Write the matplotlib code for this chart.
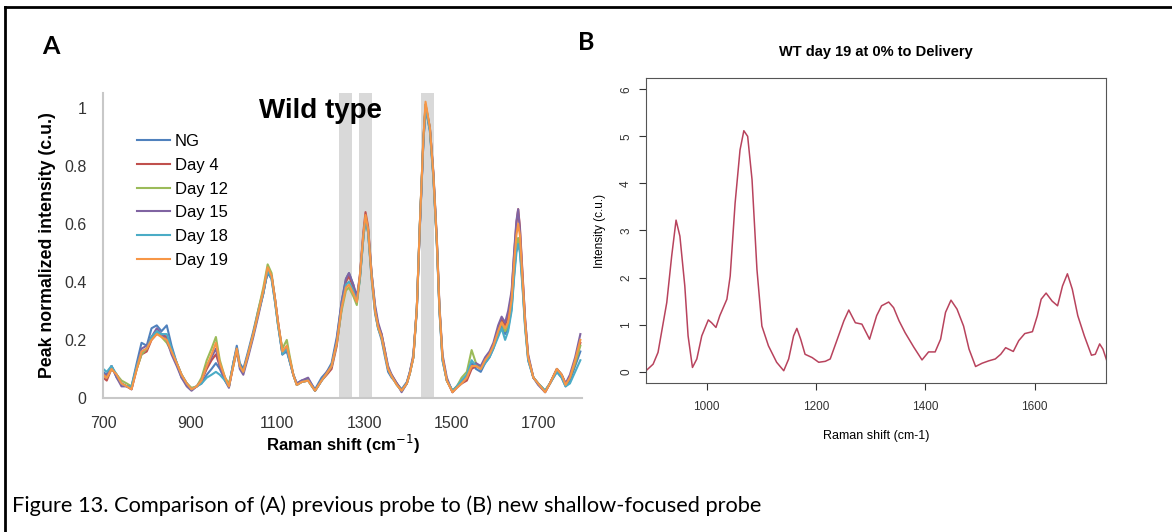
import numpy as np
import matplotlib.pyplot as plt
from matplotlib.lines import Line2D

plt.rcParams['font.family'] = ['Liberation Sans', 'DejaVu Sans']

# ---- panel A: wild type spectra (peak normalized) ----
shift_a = [700, 708, 719, 731, 742, 754, 765, 777, 788, 800,
           811, 823, 834, 846, 857, 869, 880, 892, 903, 915,
           926, 938, 949, 959, 968, 980, 989, 999, 1007, 1014,
           1022, 1033, 1045, 1056, 1068, 1078, 1087, 1095, 1102, 1112,
           1122, 1128, 1137, 1145, 1156, 1171, 1187, 1202, 1214, 1225,
           1237, 1248, 1258, 1265, 1275, 1283, 1290, 1298, 1303, 1309,
           1317, 1325, 1332, 1340, 1348, 1355, 1363, 1375, 1386, 1398,
           1405, 1413, 1421, 1428, 1436, 1441, 1451, 1459, 1467, 1473,
           1480, 1490, 1503, 1513, 1524, 1536, 1547, 1557, 1568, 1578,
           1588, 1597, 1608, 1616, 1624, 1631, 1639, 1645, 1650, 1654,
           1658, 1664, 1670, 1677, 1689, 1700, 1716, 1727, 1743, 1754,
           1763, 1773, 1785, 1797]

ng = [0.09, 0.08, 0.11, 0.07, 0.05, 0.04, 0.04, 0.12, 0.19, 0.18,
      0.24, 0.25, 0.23, 0.25, 0.18, 0.12, 0.07, 0.05, 0.03, 0.04,
      0.05, 0.08, 0.10, 0.12, 0.10, 0.06, 0.04, 0.12, 0.18, 0.12,
      0.10, 0.16, 0.23, 0.30, 0.37, 0.43, 0.41, 0.33, 0.25, 0.15,
      0.16, 0.13, 0.08, 0.05, 0.06, 0.065, 0.03, 0.07, 0.09, 0.12,
      0.21, 0.33, 0.41, 0.43, 0.39, 0.34, 0.41, 0.55, 0.62, 0.57,
      0.41, 0.29, 0.24, 0.20, 0.14, 0.09, 0.07, 0.05, 0.03, 0.055,
      0.09, 0.14, 0.30, 0.59, 0.88, 1.00, 0.92, 0.76, 0.53, 0.30,
      0.13, 0.06, 0.025, 0.04, 0.06, 0.07, 0.12, 0.10, 0.09, 0.12,
      0.14, 0.17, 0.22, 0.25, 0.22, 0.24, 0.31, 0.43, 0.52, 0.55,
      0.52, 0.39, 0.25, 0.13, 0.07, 0.05, 0.025, 0.05, 0.09, 0.07,
      0.04, 0.06, 0.11, 0.16]

day4 = [0.07, 0.06, 0.10, 0.08, 0.05, 0.04, 0.03, 0.10, 0.15, 0.16,
        0.20, 0.22, 0.22, 0.21, 0.16, 0.12, 0.08, 0.05, 0.03, 0.04,
        0.06, 0.10, 0.13, 0.15, 0.11, 0.07, 0.04, 0.11, 0.16, 0.11,
        0.09, 0.15, 0.22, 0.29, 0.36, 0.44, 0.42, 0.34, 0.26, 0.16,
        0.17, 0.14, 0.08, 0.045, 0.055, 0.06, 0.025, 0.06, 0.08, 0.10,
        0.18, 0.31, 0.40, 0.42, 0.38, 0.33, 0.42, 0.57, 0.64, 0.59,
        0.43, 0.31, 0.25, 0.22, 0.16, 0.10, 0.08, 0.05, 0.025, 0.05,
        0.085, 0.14, 0.31, 0.60, 0.89, 1.01, 0.93, 0.77, 0.54, 0.31,
        0.14, 0.06, 0.02, 0.04, 0.05, 0.06, 0.10, 0.11, 0.10, 0.13,
        0.15, 0.18, 0.24, 0.27, 0.25, 0.28, 0.36, 0.50, 0.60, 0.65,
        0.59, 0.43, 0.27, 0.14, 0.07, 0.05, 0.02, 0.05, 0.10, 0.08,
        0.05, 0.07, 0.12, 0.19]

day12 = [0.08, 0.07, 0.10, 0.08, 0.06, 0.05, 0.04, 0.10, 0.15, 0.17,
         0.21, 0.23, 0.21, 0.19, 0.16, 0.12, 0.08, 0.05, 0.035, 0.04,
         0.07, 0.13, 0.17, 0.21, 0.13, 0.07, 0.05, 0.11, 0.17, 0.11,
         0.09, 0.15, 0.22, 0.30, 0.38, 0.46, 0.43, 0.34, 0.25, 0.17,
         0.20, 0.15, 0.08, 0.045, 0.055, 0.06, 0.025, 0.06, 0.085, 0.11,
         0.19, 0.30, 0.37, 0.38, 0.35, 0.32, 0.41, 0.55, 0.62, 0.57,
         0.42, 0.30, 0.24, 0.21, 0.15, 0.10, 0.075, 0.045, 0.025, 0.05,
         0.085, 0.14, 0.31, 0.60, 0.89, 1.01, 0.93, 0.77, 0.54, 0.31,
         0.14, 0.06, 0.025, 0.04, 0.07, 0.09, 0.165, 0.12, 0.10, 0.13,
         0.15, 0.18, 0.23, 0.26, 0.23, 0.25, 0.32, 0.44, 0.52, 0.55,
         0.52, 0.40, 0.25, 0.14, 0.07, 0.05, 0.025, 0.05, 0.10, 0.08,
         0.045, 0.07, 0.12, 0.18]

day15 = [0.08, 0.08, 0.11, 0.07, 0.04, 0.04, 0.03, 0.11, 0.17, 0.18,
         0.21, 0.24, 0.22, 0.20, 0.15, 0.11, 0.07, 0.04, 0.025, 0.04,
         0.06, 0.11, 0.14, 0.17, 0.11, 0.06, 0.035, 0.12, 0.17, 0.10,
         0.08, 0.14, 0.21, 0.28, 0.36, 0.44, 0.42, 0.34, 0.26, 0.15,
         0.17, 0.13, 0.08, 0.05, 0.06, 0.07, 0.025, 0.06, 0.09, 0.11,
         0.20, 0.33, 0.41, 0.43, 0.39, 0.35, 0.42, 0.56, 0.62, 0.58,
         0.43, 0.32, 0.26, 0.22, 0.16, 0.11, 0.08, 0.05, 0.02, 0.05,
         0.09, 0.15, 0.31, 0.59, 0.88, 1.00, 0.93, 0.78, 0.55, 0.32,
         0.15, 0.07, 0.02, 0.035, 0.05, 0.07, 0.11, 0.12, 0.11, 0.14,
         0.16, 0.19, 0.25, 0.28, 0.26, 0.30, 0.37, 0.51, 0.61, 0.65,
         0.58, 0.42, 0.27, 0.15, 0.07, 0.045, 0.02, 0.05, 0.10, 0.08,
         0.05, 0.08, 0.14, 0.22]

day18 = [0.10, 0.09, 0.11, 0.08, 0.05, 0.04, 0.04, 0.11, 0.16, 0.17,
         0.21, 0.23, 0.22, 0.22, 0.17, 0.12, 0.08, 0.05, 0.03, 0.04,
         0.05, 0.07, 0.08, 0.09, 0.08, 0.06, 0.04, 0.12, 0.17, 0.11,
         0.09, 0.15, 0.22, 0.29, 0.36, 0.44, 0.41, 0.33, 0.25, 0.15,
         0.17, 0.13, 0.08, 0.045, 0.055, 0.06, 0.025, 0.06, 0.085, 0.11,
         0.19, 0.31, 0.39, 0.40, 0.37, 0.33, 0.41, 0.55, 0.62, 0.57,
         0.42, 0.30, 0.24, 0.21, 0.15, 0.10, 0.075, 0.045, 0.025, 0.05,
         0.085, 0.14, 0.31, 0.60, 0.88, 1.00, 0.92, 0.76, 0.53, 0.30,
         0.13, 0.06, 0.025, 0.04, 0.06, 0.08, 0.13, 0.11, 0.10, 0.12,
         0.14, 0.17, 0.21, 0.24, 0.20, 0.23, 0.30, 0.42, 0.50, 0.53,
         0.50, 0.38, 0.24, 0.13, 0.07, 0.05, 0.025, 0.05, 0.09, 0.07,
         0.04, 0.05, 0.09, 0.13]

day19 = [0.08, 0.07, 0.10, 0.08, 0.05, 0.04, 0.03, 0.10, 0.16, 0.17,
         0.20, 0.22, 0.21, 0.20, 0.16, 0.12, 0.08, 0.05, 0.03, 0.04,
         0.06, 0.11, 0.15, 0.19, 0.12, 0.07, 0.04, 0.11, 0.17, 0.11,
         0.09, 0.15, 0.22, 0.29, 0.37, 0.45, 0.42, 0.34, 0.26, 0.16,
         0.18, 0.14, 0.08, 0.045, 0.055, 0.06, 0.025, 0.06, 0.085, 0.11,
         0.19, 0.31, 0.38, 0.39, 0.36, 0.33, 0.42, 0.56, 0.63, 0.58,
         0.42, 0.30, 0.245, 0.21, 0.15, 0.10, 0.075, 0.045, 0.025, 0.05,
         0.085, 0.14, 0.31, 0.60, 0.89, 1.02, 0.93, 0.77, 0.54, 0.31,
         0.14, 0.06, 0.02, 0.035, 0.05, 0.07, 0.11, 0.11, 0.10, 0.13,
         0.15, 0.18, 0.23, 0.26, 0.24, 0.26, 0.34, 0.47, 0.56, 0.60,
         0.56, 0.41, 0.26, 0.14, 0.07, 0.05, 0.02, 0.05, 0.10, 0.08,
         0.045, 0.07, 0.13, 0.20]

labels_a = ['NG', 'Day 4', 'Day 12', 'Day 15', 'Day 18', 'Day 19']
colors_a = ['#4F81BD', '#C0504D', '#9BBB59', '#8064A2', '#4BACC6', '#F79646']
bands = [(1243, 1271), (1289, 1319), (1430, 1461)]

# ---- panel B: WT day 19, new probe ----
shift_b = [889, 902, 911, 927, 936, 944, 951, 960, 966, 974,
           982, 991, 1003, 1009, 1017, 1024, 1037, 1043, 1052, 1061,
           1068, 1075, 1083, 1092, 1101, 1113, 1128, 1141, 1150, 1159,
           1165, 1172, 1180, 1193, 1205, 1217, 1226, 1239, 1251, 1260,
           1272, 1284, 1298, 1311, 1320, 1333, 1342, 1352, 1363, 1379,
           1394, 1406, 1418, 1428, 1437, 1447, 1458, 1470, 1480, 1492,
           1504, 1516, 1528, 1538, 1547, 1561, 1571, 1582, 1596, 1605,
           1612, 1621, 1632, 1642, 1651, 1660, 1669, 1679, 1691, 1704,
           1711, 1719, 1725, 1733]
intensity_b = [0.02, 0.16, 0.41, 1.47, 2.46, 3.22, 2.88, 1.82, 0.76, 0.09,
               0.27, 0.76, 1.10, 1.04, 0.94, 1.19, 1.54, 2.03, 3.58, 4.71,
               5.12, 5.00, 4.08, 2.17, 0.97, 0.55, 0.20, 0.02, 0.27, 0.76,
               0.92, 0.69, 0.37, 0.30, 0.20, 0.22, 0.27, 0.69, 1.08, 1.31,
               1.04, 1.01, 0.69, 1.19, 1.40, 1.48, 1.36, 1.08, 0.83, 0.52,
               0.25, 0.42, 0.42, 0.69, 1.26, 1.52, 1.33, 0.97, 0.48, 0.11,
               0.18, 0.23, 0.27, 0.37, 0.51, 0.43, 0.66, 0.81, 0.85, 1.19,
               1.54, 1.67, 1.50, 1.40, 1.82, 2.08, 1.75, 1.19, 0.76, 0.35,
               0.37, 0.59, 0.48, 0.20]

fig = plt.figure(figsize=(11.72, 5.32), dpi=100)

# panel A
ax1 = fig.add_axes([0.0881, 0.2519, 0.4082, 0.5733])
for lo, hi in bands:
    ax1.axvspan(lo, hi, color='#d9d9d9', lw=0, zorder=0)
series = [ng, day4, day12, day15, day18, day19]
for y, lab, c in zip(series, labels_a, colors_a):
    ax1.plot(shift_a, y, color=c, lw=1.5, label=lab)
ax1.set_xlim(700, 1800)
ax1.set_ylim(0, 1.05)
ax1.set_xticks([700, 900, 1100, 1300, 1500, 1700])
ax1.set_yticks([0, 0.2, 0.4, 0.6, 0.8, 1])
ax1.set_yticklabels(['0', '0.2', '0.4', '0.6', '0.8', '1'])
ax1.tick_params(axis='y', length=0, labelsize=11.5, colors='#333333', pad=12)
ax1.tick_params(axis='x', length=0, labelsize=11.5, colors='#333333', pad=13)
for s in ['top', 'right']:
    ax1.spines[s].set_visible(False)
for s in ['left', 'bottom']:
    ax1.spines[s].set_color('#c8c8c8')
    ax1.spines[s].set_linewidth(1.5)
ax1.set_xlabel('Raman shift (cm$^{-1}$)', fontsize=12, fontweight='bold', labelpad=1)
ax1.set_ylabel('Peak normalized intensity (c.u.)', fontsize=12.8, fontweight='bold', labelpad=6)
ax1.text(0.455, 0.94, 'Wild type', transform=ax1.transAxes, ha='center', va='center',
         fontsize=20, fontweight='bold')
ax1.legend(loc='upper left', bbox_to_anchor=(0.07, 0.865), frameon=False, fontsize=12,
           handlelength=2.0, handletextpad=0.3, labelspacing=0.52, borderpad=0, borderaxespad=0)

# panel B
ax2 = fig.add_axes([0.5512, 0.2801, 0.3922, 0.5733])
ax2.plot(shift_b, intensity_b, color='#b8435d', lw=1.1)
ax2.set_xlim(889, 1730)
ax2.set_ylim(-0.24, 6.24)
ax2.set_xticks([1000, 1200, 1400, 1600])
ax2.set_yticks([0, 1, 2, 3, 4, 5, 6])
ax2.tick_params(length=5, labelsize=8.5, colors='#333333')
ax2.tick_params(axis='x', pad=8)
ax2.tick_params(axis='y', pad=5)
for lab in ax2.get_yticklabels():
    lab.set_rotation(90)
    lab.set_va('center')
for s in ax2.spines.values():
    s.set_color('#555555')
ax2.set_xlabel('Raman shift (cm-1)', fontsize=9, labelpad=12)
ax2.set_ylabel('Intensity (c.u.)', fontsize=8.5, labelpad=10)
ax2.set_title('WT day 19 at 0% to Delivery', fontsize=10.5, fontweight='bold', pad=16)

# panel letters, caption and frame
fig.text(51 / 1172, 1 - 47 / 532, 'A', fontsize=18, fontweight='bold', family='Lato',
         ha='center', va='center')
fig.text(586 / 1172, 1 - 43 / 532, 'B', fontsize=18, fontweight='bold', family='Lato',
         ha='center', va='center')
fig.text(12 / 1172, 1 - 506 / 532, 'Figure 13. Comparison of (A) previous probe to (B) new shallow-focused probe',
         fontsize=15.7, family='Lato', ha='left', va='center')
fig.add_artist(Line2D([5 / 1172, 1], [1 - 7 / 532, 1 - 7 / 532], color='black', lw=2))
fig.add_artist(Line2D([5 / 1172, 5 / 1172], [0, 1 - 7 / 532], color='black', lw=2))

fig.savefig('out.png', dpi=100)
